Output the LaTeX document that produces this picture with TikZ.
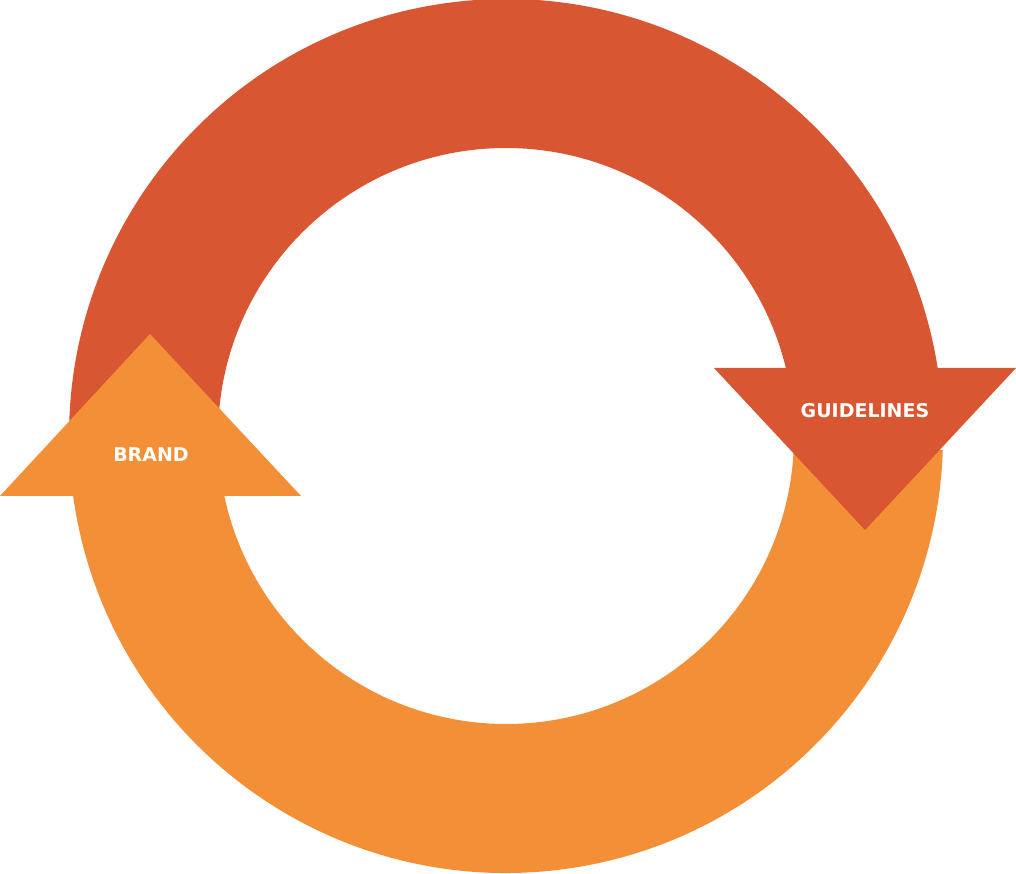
\documentclass[tikz,border=0pt]{standalone}
\usepackage{fontspec}
\setsansfont{DejaVu Sans}
\usetikzlibrary{calc, positioning}
\definecolor{ringred}{RGB}{216,86,50}
\definecolor{ringorange}{RGB}{243,143,54}

\begin{document}
\begin{tikzpicture}[x=1pt, y=1pt,
    tagtext/.style={text=white, font=\sffamily\bfseries\fontsize{19}{19}\selectfont}]
    \useasboundingbox (0,0) rectangle (1016,874);
    \coordinate (O) at (506,438);

    % Cung trên (đỏ)
    \fill[ringred] (O) ++(8.95:437) arc[start angle=8.95, end angle=178.56, radius=437]
        -- ($(O)+(177.81:288)$) arc[start angle=177.81, end angle=13.66, radius=288] -- cycle;

    % Cung dưới (cam)
    \fill[ringorange] (O) ++(187.89:437) arc[start angle=187.89, end angle=358.16, radius=437]
        -- ($(O)+(357.21:288)$) arc[start angle=357.21, end angle=192.02, radius=288] -- cycle;

    % Đầu mũi tên
    \fill[ringred] (714,506) -- (1016,506) -- (865,344) -- cycle;
    \fill[ringorange] (0,378) -- (301,378) -- (150,540) -- cycle;

    % Nhãn
    \node[tagtext] (guidelines) at (865,463) {GUIDELINES};
    \node[tagtext] (brand) at (151,419) {BRAND};
\end{tikzpicture}
\end{document}
